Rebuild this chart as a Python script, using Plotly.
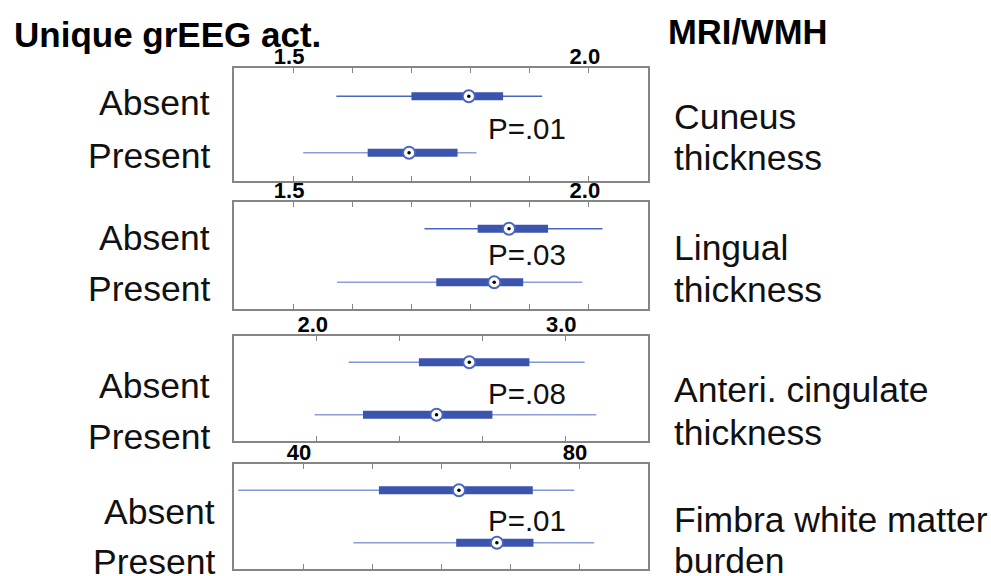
import plotly.graph_objects as go

W, H = 991, 576

# ---------------- data ----------------
groups = ["Absent", "Present"]
group_y = [1, 0]
measure_line1 = ["Cuneus", "Lingual", "Anteri. cingulate", "Fimbra white matter"]
measure_line2 = ["thickness", "thickness", "thickness", "burden"]
p_values = ["P=.01", "P=.03", "P=.08", "P=.01"]

# per panel: [Absent, Present]
whisker_low = [[1.573, 1.517], [1.722, 1.574], [2.128, 1.991], [30.6, 47.3]]
q1 = [[1.700, 1.626], [1.812, 1.742], [2.411, 2.186], [51.0, 62.2]]
median = [[1.797, 1.696], [1.865, 1.840], [2.614, 2.482], [62.6, 68.1]]
q3 = [[1.855, 1.778], [1.931, 1.889], [2.856, 2.707], [73.3, 73.4]]
whisker_high = [[1.921, 1.810], [2.023, 1.989], [3.078, 3.125], [79.3, 82.2]]

x_ranges = [[1.4, 2.1], [1.4, 2.1], [5 / 3, 10 / 3], [30, 90]]
tick_vals = [
    [1.5, 1.6, 1.7, 1.8, 1.9, 2.0],
    [1.5, 1.6, 1.7, 1.8, 1.9, 2.0],
    [2.0, 7 / 3, 8 / 3, 3.0],
    [40, 50, 60, 70, 80],
]
tick_labels = [
    ["1.5", "", "", "", "", "2.0"],
    ["1.5", "", "", "", "", "2.0"],
    ["2.0", "", "", "3.0"],
    ["40", "", "", "", "80"],
]

# ---------------- layout (pixels) ----------------
panel_left, panel_right = 234, 648
panel_tops = [68, 202, 336, 464]
panel_bottoms = [181, 309, 441, 569]
group_label_y = [[103, 156], [238, 289], [386, 437], [512, 562]]
group_label_x = [212, 212, 212, 217]
measure_y = [[117, 158], [248, 290], [390, 433], [520, 561]]
p_y = [128, 255, 393, 520]

FONT = "Liberation Sans, Arial, Helvetica, sans-serif"
BOX_COLOR = "#3b55ae"
WHISKER_COLORS = [["#4a66c2", "#8a9edb"], ["#4a66c2", "#8a9edb"],
                  ["#7f95d6", "#8a9edb"], ["#7f95d6", "#8a9edb"]]
FRAME = "#858585"
LABEL_SIZE = 35.5


def px_x(x):
    return x / W


def px_y(y):
    return 1 - y / H


fig = go.Figure()
layout = dict(
    width=W, height=H, margin=dict(l=0, r=0, t=0, b=0),
    paper_bgcolor="white", plot_bgcolor="white", showlegend=False,
    font=dict(family=FONT, color="black"),
)

annotations = []
for i in range(4):
    xa = "x" if i == 0 else f"x{i+1}"
    ya = "y" if i == 0 else f"y{i+1}"
    xkey = "xaxis" if i == 0 else f"xaxis{i+1}"
    ykey = "yaxis" if i == 0 else f"yaxis{i+1}"
    layout[xkey] = dict(
        domain=[px_x(panel_left), px_x(panel_right)], anchor=ya,
        range=x_ranges[i], side="top", showgrid=False, zeroline=False,
        showline=True, linecolor=FRAME, linewidth=1.5, mirror="ticks",
        ticks="inside", ticklen=5, tickwidth=1, tickcolor=FRAME,
        tickvals=tick_vals[i], ticktext=[f"<b>{t}</b>" if t else "" for t in tick_labels[i]],
        tickfont=dict(size=22, family=FONT, color="black"),
        ticklabelstandoff=-7, ticklabelshift=-4,
    )
    layout[ykey] = dict(
        domain=[px_y(panel_bottoms[i]), px_y(panel_tops[i])], anchor=xa,
        range=[-0.5, 1.5], showgrid=False, zeroline=False, showticklabels=False,
        showline=True, linecolor=FRAME, linewidth=1.5, mirror=True, ticks="",
    )
    for g in range(2):
        yv = group_y[g]
        fig.add_trace(go.Scatter(
            x=[whisker_low[i][g], whisker_high[i][g]], y=[yv, yv], mode="lines",
            line=dict(color=WHISKER_COLORS[i][g], width=1.6), xaxis=xa, yaxis=ya,
            hoverinfo="skip"))
        fig.add_trace(go.Scatter(
            x=[q1[i][g], q3[i][g]], y=[yv, yv], mode="lines",
            line=dict(color=BOX_COLOR, width=8), xaxis=xa, yaxis=ya,
            hoverinfo="skip"))
        fig.add_trace(go.Scatter(
            x=[median[i][g]], y=[yv], mode="markers",
            marker=dict(symbol="circle", size=12, color="white",
                        line=dict(color="#4a66c2", width=1.8)),
            xaxis=xa, yaxis=ya, hoverinfo="skip"))
        fig.add_trace(go.Scatter(
            x=[median[i][g]], y=[yv], mode="markers",
            marker=dict(symbol="circle", size=3.5, color="black"),
            xaxis=xa, yaxis=ya, hoverinfo="skip"))
        annotations.append(dict(
            text=groups[g], x=px_x(group_label_x[i]), y=px_y(group_label_y[i][g]),
            xref="paper", yref="paper", xanchor="right", yanchor="middle",
            showarrow=False, font=dict(size=LABEL_SIZE, family=FONT, color="#111")))
    annotations.append(dict(
        text=p_values[i], x=px_x(486), y=px_y(p_y[i]), xref="paper", yref="paper",
        xanchor="left", yanchor="middle", showarrow=False,
        font=dict(size=29.5, family=FONT, color="#111")))
    for line_text, yy in zip([measure_line1[i], measure_line2[i]], measure_y[i]):
        annotations.append(dict(
            text=line_text, x=px_x(672), y=px_y(yy), xref="paper", yref="paper",
            xanchor="left", yanchor="middle", showarrow=False,
            font=dict(size=LABEL_SIZE, family=FONT, color="#111")))

annotations.append(dict(
    text="<b>Unique grEEG act.</b>", x=px_x(12), y=px_y(34), xref="paper", yref="paper",
    xanchor="left", yanchor="middle", showarrow=False,
    font=dict(size=35, family=FONT, color="black")))
annotations.append(dict(
    text="<b>MRI/WMH</b>", x=px_x(666), y=px_y(32), xref="paper", yref="paper",
    xanchor="left", yanchor="middle", showarrow=False,
    font=dict(size=34.6, family=FONT, color="black")))

layout["annotations"] = annotations
fig.update_layout(**layout)
fig.write_html("out.html")
